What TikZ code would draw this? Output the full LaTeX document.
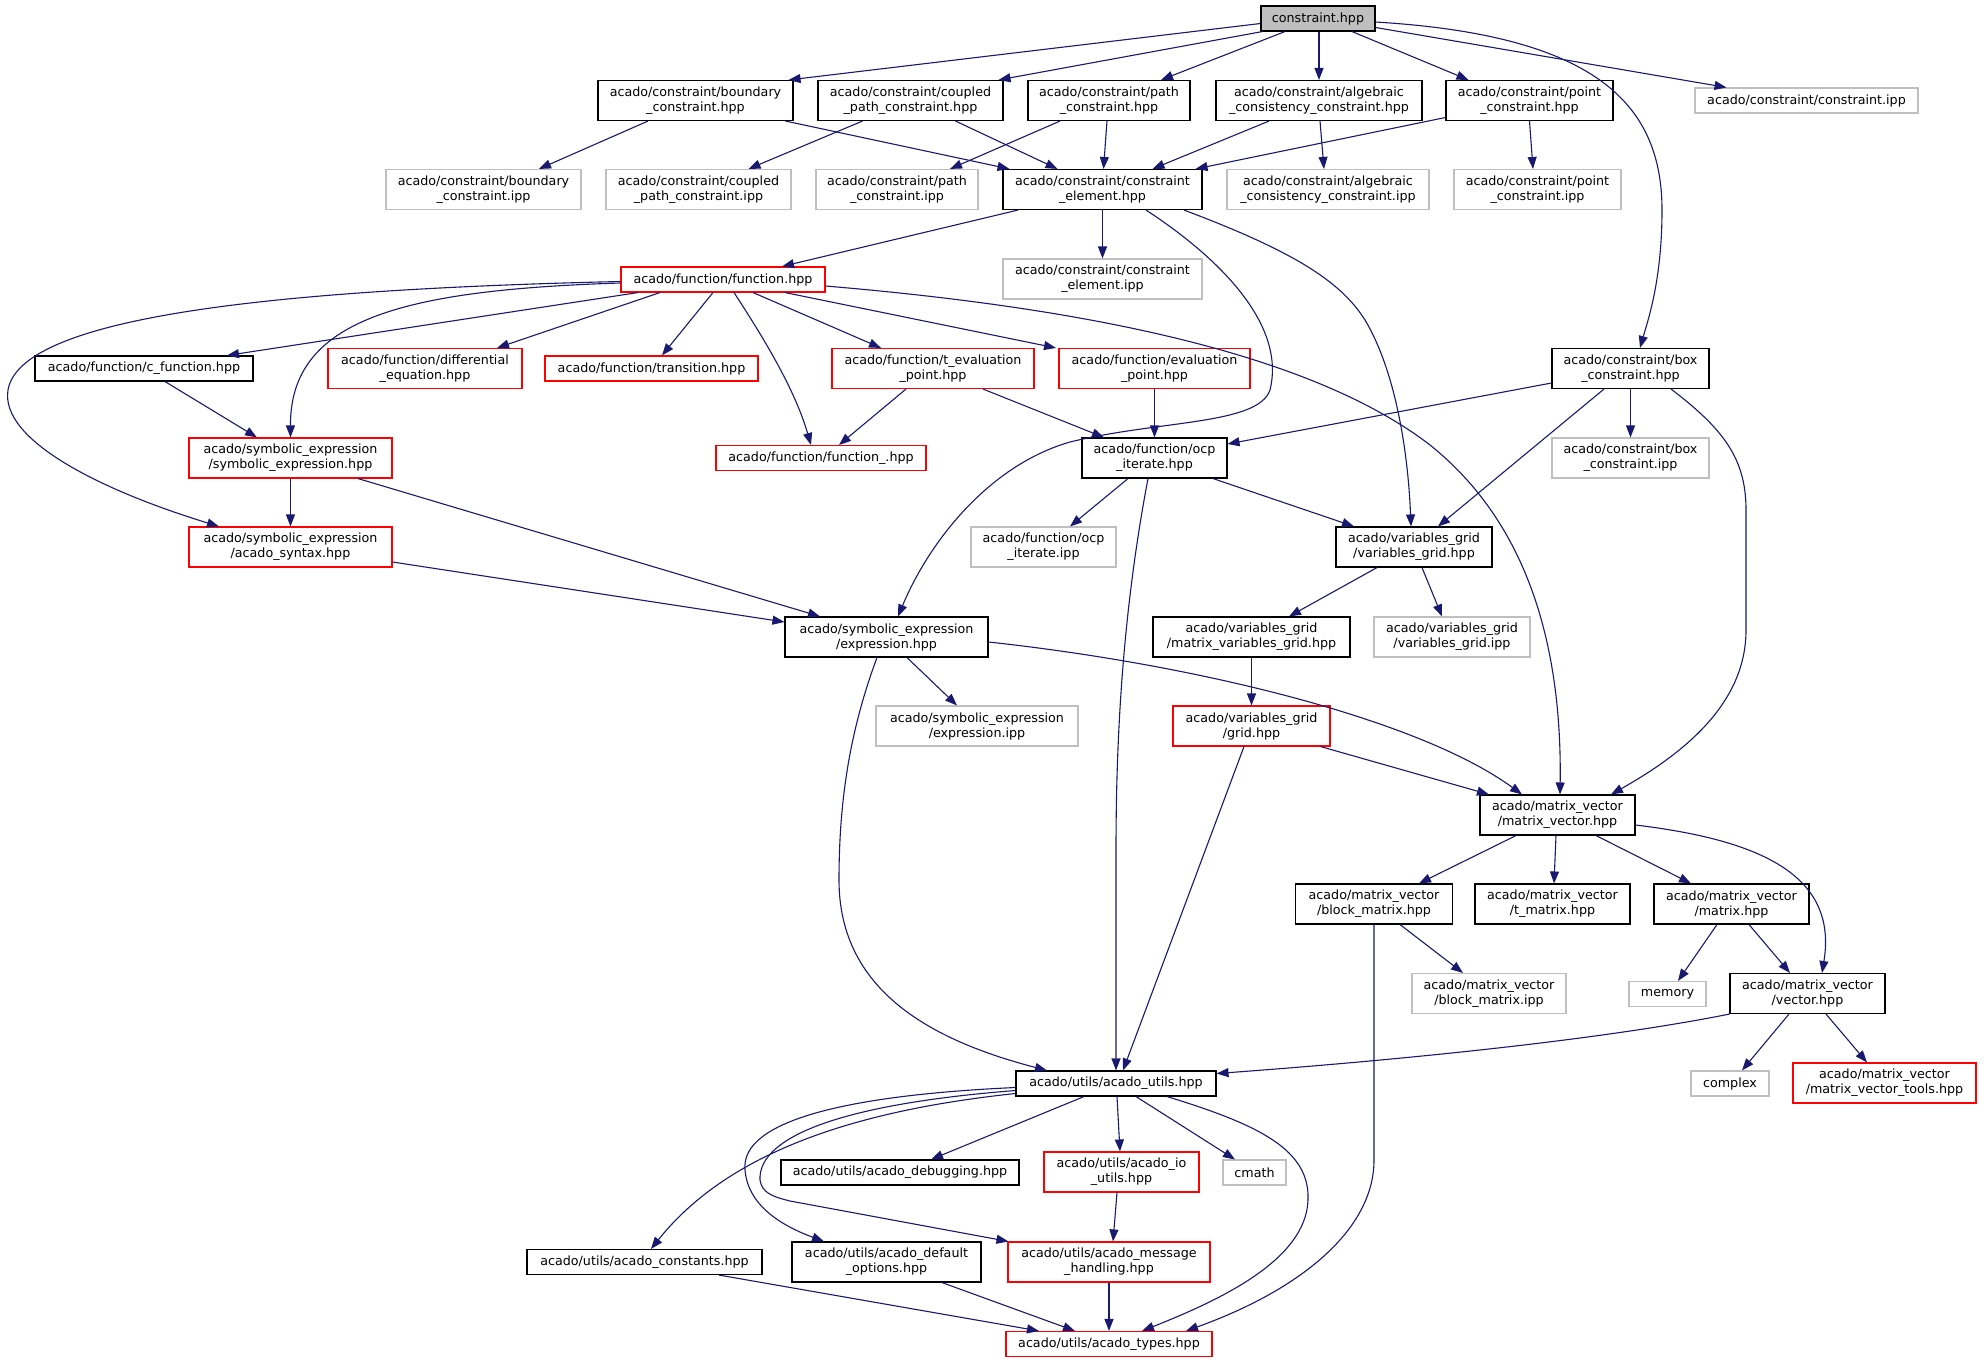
\documentclass[tikz,border=0pt]{standalone}
\usepackage{fontspec}
\setmainfont{DejaVu Sans}
\usetikzlibrary{arrows.meta}
\definecolor{edgec}{HTML}{191970}
\definecolor{grayb}{HTML}{BFBFBF}
\definecolor{rootf}{HTML}{BFBFBF}
\newcommand\nodefont{\fontsize{12.7}{15}\selectfont}
\tikzset{
 box/.style={rectangle, inner sep=0pt, align=center, font=\nodefont, line width=1.1pt, text=black},
 blk/.style={box, draw=black},
 redb/.style={box, draw=red},
 grb/.style={box, draw=grayb},
 rootb/.style={box, draw=black, fill=rootf},
 one/.style={minimum height=25pt},
 two/.style={minimum height=40pt},
 edg/.style={draw=edgec, line width=1.1pt, -{Triangle[length=12pt,width=9pt]}},
}
\begin{document}
\begin{tikzpicture}[x=1pt,y=-1pt]
\fill[white] (0,0) rectangle (1987,1363);
\useasboundingbox (0,0) rectangle (1987,1363);
% row 1
\node[rootb,one,minimum width=114pt] (CH) at (1318,18.5) {constraint.hpp};
% row 2
\node[blk,two,minimum width=195pt] (bch) at (695.5,100.5) {acado/constraint/boundary\\\_constraint.hpp};
\node[blk,two,minimum width=185pt] (cph) at (910.5,100.5) {acado/constraint/coupled\\\_path\_constraint.hpp};
\node[blk,two,minimum width=162pt] (ph) at (1109,100.5) {acado/constraint/path\\\_constraint.hpp};
\node[blk,two,minimum width=206pt] (ah) at (1319,100.5) {acado/constraint/algebraic\\\_consistency\_constraint.hpp};
\node[blk,two,minimum width=167pt] (poh) at (1529.5,100.5) {acado/constraint/point\\\_constraint.hpp};
\node[grb,one,minimum width=223pt] (cipp) at (1806.5,100.5) {acado/constraint/constraint.ipp};
% row 3
\node[grb,two,minimum width=195pt] (bipp) at (483.5,189.5) {acado/constraint/boundary\\\_constraint.ipp};
\node[grb,two,minimum width=185pt] (cpipp) at (698.5,189.5) {acado/constraint/coupled\\\_path\_constraint.ipp};
\node[grb,two,minimum width=162pt] (pipp) at (897,189.5) {acado/constraint/path\\\_constraint.ipp};
\node[blk,two,minimum width=199pt] (ceh) at (1102.5,189.5) {acado/constraint/constraint\\\_element.hpp};
\node[grb,two,minimum width=202pt] (aipp) at (1328,189.5) {acado/constraint/algebraic\\\_consistency\_constraint.ipp};
\node[grb,two,minimum width=167pt] (poipp) at (1537.5,189.5) {acado/constraint/point\\\_constraint.ipp};
% row 4
\node[grb,two,minimum width=199pt] (ceipp) at (1102.5,279) {acado/constraint/constraint\\\_element.ipp};
\node[redb,one,minimum width=204pt] (fh) at (723,279.5) {acado/function/function.hpp};
% row 5
\node[blk,one,minimum width=218pt] (cfh) at (144,368.5) {acado/function/c\_function.hpp};
\node[redb,two,minimum width=194pt] (deh) at (425,368.5) {acado/function/differential\\\_equation.hpp};
\node[redb,one,minimum width=213pt] (trh) at (651.5,368.5) {acado/function/transition.hpp};
\node[redb,two,minimum width=202pt] (teph) at (933,368.5) {acado/function/t\_evaluation\\\_point.hpp};
\node[redb,two,minimum width=191pt] (eph) at (1154.5,368.5) {acado/function/evaluation\\\_point.hpp};
\node[blk,two,minimum width=157pt] (boxh) at (1630.5,368.5) {acado/constraint/box\\\_constraint.hpp};
% row 6
\node[redb,two,minimum width=203pt] (seh) at (290.5,458) {acado/symbolic\_expression\\/symbolic\_expression.hpp};
\node[redb,one,minimum width=210pt] (fuh) at (821,458) {acado/function/function\_.hpp};
\node[blk,two,minimum width=145pt] (oih) at (1154.5,458) {acado/function/ocp\\\_iterate.hpp};
\node[grb,two,minimum width=157pt] (boxipp) at (1630.5,458) {acado/constraint/box\\\_constraint.ipp};
% row 7
\node[redb,two,minimum width=203pt] (asy) at (290.5,547) {acado/symbolic\_expression\\/acado\_syntax.hpp};
\node[grb,two,minimum width=145pt] (oiipp) at (1043.5,547) {acado/function/ocp\\\_iterate.ipp};
\node[blk,two,minimum width=156pt] (vgh) at (1414,547) {acado/variables\_grid\\/variables\_grid.hpp};
% row 8
\node[blk,two,minimum width=203pt] (exh) at (886.5,637) {acado/symbolic\_expression\\/expression.hpp};
\node[blk,two,minimum width=197pt] (mvg) at (1251.5,637) {acado/variables\_grid\\/matrix\_variables\_grid.hpp};
\node[grb,two,minimum width=156pt] (vgipp) at (1452,637) {acado/variables\_grid\\/variables\_grid.ipp};
% row 9
\node[grb,two,minimum width=202pt] (exipp) at (977,726) {acado/symbolic\_expression\\/expression.ipp};
\node[redb,two,minimum width=157pt] (grh) at (1251.5,726) {acado/variables\_grid\\/grid.hpp};
% row 10
\node[blk,two,minimum width=155pt] (mvh) at (1557.5,815) {acado/matrix\_vector\\/matrix\_vector.hpp};
% row 11
\node[blk,two,minimum width=157pt] (bmh) at (1374,904) {acado/matrix\_vector\\/block\_matrix.hpp};
\node[blk,two,minimum width=155pt] (tmh) at (1552.5,904) {acado/matrix\_vector\\/t\_matrix.hpp};
\node[blk,two,minimum width=155pt] (mh) at (1731.5,904) {acado/matrix\_vector\\/matrix.hpp};
% row 12
\node[grb,two,minimum width=154pt] (bmipp) at (1489,993.5) {acado/matrix\_vector\\/block\_matrix.ipp};
\node[grb,one,minimum width=77pt] (mem) at (1667.5,994) {memory};
\node[blk,two,minimum width=155pt] (vh) at (1807.5,993.5) {acado/matrix\_vector\\/vector.hpp};
% row 13
\node[blk,one,minimum width=200pt] (auh) at (1116,1083.5) {acado/utils/acado\_utils.hpp};
\node[grb,one,minimum width=78pt] (cx) at (1730,1083.5) {complex};
\node[redb,two,minimum width=183pt] (mvt) at (1884.5,1083) {acado/matrix\_vector\\/matrix\_vector\_tools.hpp};
% row 14
\node[blk,one,minimum width=238pt] (dbg) at (900,1172.5) {acado/utils/acado\_debugging.hpp};
\node[redb,two,minimum width=155pt] (io) at (1121.5,1172) {acado/utils/acado\_io\\\_utils.hpp};
\node[grb,one,minimum width=63pt] (cm) at (1254.5,1172.5) {cmath};
% row 15
\node[blk,one,minimum width=235pt] (cst) at (644.5,1262) {acado/utils/acado\_constants.hpp};
\node[blk,two,minimum width=189pt] (dfo) at (886.5,1262) {acado/utils/acado\_default\\\_options.hpp};
\node[redb,two,minimum width=202pt] (msg) at (1109,1262) {acado/utils/acado\_message\\\_handling.hpp};
% row 16
\node[redb,one,minimum width=206pt] (typ) at (1109,1344) {acado/utils/acado\_types.hpp};

% ---- edges ----
\draw[edg] ([yshift=-5pt]CH.west) -- ([xshift=-5pt]bch.north east);
\draw[edg] ([xshift=2pt]CH.south west) -- ([xshift=-5pt]cph.north east);
\draw[edg] ([xshift=-33pt]CH.south) -- ([xshift=52pt]ph.north);
\draw[edg] ([xshift=1pt]CH.south) -- (ah.north);
\draw[edg] ([xshift=34pt]CH.south) -- ([xshift=-61pt]poh.north);
\draw[edg] ([yshift=-9pt]CH.east) -- ([xshift=-80pt]cipp.north);
\draw[edg] ([yshift=-3.5pt]CH.east) .. controls (1590,35) and (1662,100) .. (1662,210) .. controls (1662,280) and (1648,320) .. ([xshift=9.5pt]boxh.north);

\draw[edg] ([xshift=-47.5pt]bch.south) -- ([xshift=55.5pt]bipp.north);
\draw[edg] ([xshift=90pt]bch.south) -- ([xshift=-93pt]ceh.north);
\draw[edg] ([xshift=-48pt]cph.south) -- ([xshift=50pt]cpipp.north);
\draw[edg] ([xshift=45pt]cph.south) -- ([xshift=-45pt]ceh.north);
\draw[edg] ([xshift=-49pt]ph.south) -- ([xshift=53pt]pipp.north);
\draw[edg] ([xshift=-2pt]ph.south) -- ([xshift=1pt]ceh.north);
\draw[edg] ([xshift=-50pt]ah.south) -- ([xshift=50pt]ceh.north);
\draw[edg] ([xshift=1pt]ah.south) -- ([xshift=-4pt]aipp.north);
\draw[edg] ([yshift=-17pt]poh.west) -- ([xshift=-7pt]ceh.north east);
\draw[edg] (poh.south) -- ([xshift=-4.5pt]poipp.north);

\draw[edg] ([xshift=-84.5pt]ceh.south) -- ([xshift=59pt]fh.north);
\draw[edg] (ceh.south) -- (ceipp.north);
\draw[edg] ([xshift=43.5pt]ceh.south) .. controls (1230,265) and (1285,330) .. (1270,390) .. controls (1258,425) and (1160,420) .. (1070,442) .. controls (990,465) and (930,540) .. ([xshift=11.5pt]exh.north);
\draw[edg] ([xshift=81.5pt]ceh.south) .. controls (1290,250) and (1340,280) .. (1365,320) .. controls (1395,370) and (1408,450) .. ([xshift=-3pt]vgh.north);

\draw[edg] ([xshift=-85pt]fh.south) -- ([xshift=83pt]cfh.north);
\draw[edg] ([xshift=-63pt]fh.south) -- ([xshift=72pt]deh.north);
\draw[edg] ([xshift=-10pt]fh.south) -- ([xshift=10.5pt]trh.north);
\draw[edg] ([xshift=30pt]fh.south) -- ([xshift=-52pt]teph.north);
\draw[edg] ([xshift=62pt]fh.south) -- ([xshift=-98.5pt]eph.north);
\draw[edg] ([xshift=11pt]fh.south) .. controls (765,340) and (795,390) .. ([xshift=-10pt]fuh.north);
\draw[edg] ([yshift=-3.5pt]fh.west) .. controls (400,290) and (290,320) .. (seh.north);
\draw[edg] ([yshift=-2pt]fh.west) .. controls (250,290) and (20,320) .. (8,390) .. controls (0,440) and (100,490) .. ([xshift=-71.5pt]asy.north);
\draw[edg] ([yshift=-6.5pt]fh.east) .. controls (1050,305) and (1300,345) .. (1430,445) .. controls (1530,525) and (1562,650) .. ([xshift=2.5pt]mvh.north);

\draw[edg] ([xshift=21pt]cfh.south) -- ([xshift=-33.5pt]seh.north);
\draw[edg] ([xshift=-27pt]teph.south) -- ([xshift=18pt]fuh.north);
\draw[edg] ([xshift=50pt]teph.south) -- ([xshift=-50.5pt]oih.north);
\draw[edg] (eph.south) -- (oih.north);

\draw[edg] ([yshift=-14.5pt]boxh.west) -- ([yshift=14pt]oih.east);
\draw[edg] (boxh.south) -- (boxipp.north);
\draw[edg] ([xshift=-26.5pt]boxh.south) -- ([xshift=24pt]vgh.north);
\draw[edg] ([xshift=40.5pt]boxh.south) .. controls (1725,430) and (1746,460) .. (1746,510) -- (1746,630) .. controls (1746,700) and (1690,750) .. ([xshift=53.5pt]mvh.north);

\draw[edg] (seh.south) -- (asy.north);
\draw[edg] ([xshift=67.5pt]seh.south) -- ([xshift=-66.5pt]exh.north);
\draw[edg] ([yshift=-15pt]asy.east) -- ([yshift=15pt]exh.west);

\draw[edg] ([xshift=-26.5pt]oih.south) -- ([xshift=26.5pt]oiipp.north);
\draw[edg] ([xshift=-6.5pt]oih.south) .. controls (1125,600) and (1116,720) .. (1116,850) -- (auh.north);
\draw[edg] ([xshift=58.5pt]oih.south) -- ([xshift=-60pt]vgh.north);

\draw[edg] ([xshift=-37pt]vgh.south) -- ([xshift=37.5pt]mvg.north);
\draw[edg] ([xshift=8pt]vgh.south) -- ([xshift=-10pt]vgipp.north);

\draw[edg] ([xshift=20.5pt]exh.south) -- ([xshift=-20pt]exipp.north);
\draw[edg] ([xshift=-9.5pt]exh.south) .. controls (850,730) and (839,800) .. (839,880) .. controls (839,990) and (930,1040) .. ([xshift=-69pt]auh.north);
\draw[edg] ([yshift=-5pt]exh.east) .. controls (1200,665) and (1420,720) .. ([xshift=-35.5pt]mvh.north);

\draw[edg] (mvg.south) -- (grh.north);
\draw[edg] ([xshift=-7.5pt]grh.south) -- ([xshift=7pt]auh.north);
\draw[edg] ([xshift=-10pt]grh.south east) -- ([xshift=-68.5pt]mvh.north);

\draw[edg] ([xshift=-41.5pt]mvh.south) -- ([xshift=45pt]bmh.north);
\draw[edg] ([xshift=-1.5pt]mvh.south) -- ([xshift=1.5pt]tmh.north);
\draw[edg] ([xshift=38.5pt]mvh.south) -- ([xshift=-40.5pt]mh.north);
\draw[edg] ([yshift=-10pt]mvh.east) .. controls (1760,840) and (1838,875) .. ([xshift=14.5pt]vh.north);

\draw[edg] ([xshift=26pt]bmh.south) -- ([xshift=-26pt]bmipp.north);
\draw[edg] (bmh.south) -- (1374,1160) .. controls (1374,1230) and (1300,1290) .. ([xshift=77pt]typ.north);
\draw[edg] ([xshift=-14.5pt]mh.south) -- ([xshift=10.5pt]mem.north);
\draw[edg] ([xshift=17.5pt]mh.south) -- ([xshift=-17.5pt]vh.north);

\draw[edg] (vh.south west) .. controls (1600,1040) and (1400,1060) .. ([yshift=10pt]auh.east);
\draw[edg] ([xshift=-18.5pt]vh.south) -- ([xshift=12pt]cx.north);
\draw[edg] ([xshift=18.5pt]vh.south) -- ([xshift=-17.5pt]mvt.north);

\draw[edg] ([xshift=-32pt]auh.south) -- ([xshift=31pt]dbg.north);
\draw[edg] ([xshift=1pt]auh.south) -- ([xshift=-1.5pt]io.north);
\draw[edg] ([xshift=20pt]auh.south) -- ([xshift=-19.5pt]cm.north);
\draw[edg] ([xshift=51pt]auh.south) .. controls (1260,1125) and (1310,1150) .. (1308,1200) .. controls (1306,1260) and (1220,1300) .. ([xshift=33pt]typ.north);
\draw[edg] ([yshift=-10pt]auh.west) .. controls (860,1110) and (730,1150) .. ([xshift=6.5pt]cst.north);
\draw[edg] ([yshift=-4pt]auh.west) .. controls (850,1095) and (740,1120) .. (745,1170) .. controls (748,1205) and (780,1225) .. ([xshift=-62.5pt]dfo.north);
\draw[edg] ([yshift=-7pt]auh.west) .. controls (830,1105) and (758,1140) .. (760,1180) .. controls (762,1192) and (770,1196) .. (790,1201) -- ([xshift=1pt]msg.north west);

\draw[edg] ([xshift=-4.5pt]io.south) -- ([xshift=4pt]msg.north);
\draw[edg] (msg.south) -- (typ.north);
\draw[edg] ([xshift=74.5pt]cst.south) -- ([xshift=-70pt]typ.north);
\draw[edg] ([xshift=55.5pt]dfo.south) -- ([xshift=-34pt]typ.north);
\end{tikzpicture}
\end{document}
